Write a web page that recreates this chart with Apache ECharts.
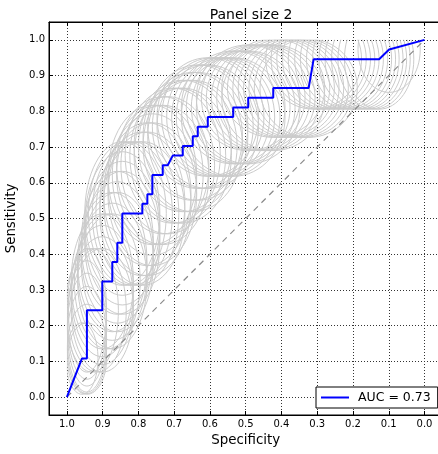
<!DOCTYPE html>
<html><head><meta charset="utf-8">
<script src="https://cdn.jsdelivr.net/npm/echarts@6/dist/echarts.min.js"></script>
<style>html,body{margin:0;padding:0;background:#fff}#c{width:438px;height:454px}</style>
</head><body><div id="c"></div>
<script>
const chartTitle = 'Panel size 2';
const xName = 'Specificity';
const yName = 'Sensitivity';
const aucLabel = 'AUC = 0.73';

// ROC curve vertices (specificity, sensitivity)
const rocSpec = [1.0, 0.958, 0.944, 0.944, 0.901, 0.901, 0.873, 0.873, 0.859, 0.859, 0.845, 0.845, 0.789, 0.789, 0.775, 0.775, 0.761, 0.761, 0.732, 0.732, 0.718, 0.704, 0.676, 0.676, 0.648, 0.648, 0.634, 0.634, 0.606, 0.606, 0.535, 0.535, 0.493, 0.493, 0.423, 0.423, 0.324, 0.310, 0.127, 0.099, 0.0];
const rocSens = [0.0, 0.108, 0.108, 0.243, 0.243, 0.324, 0.324, 0.378, 0.378, 0.432, 0.432, 0.514, 0.514, 0.541, 0.541, 0.568, 0.568, 0.622, 0.622, 0.649, 0.649, 0.676, 0.676, 0.703, 0.703, 0.730, 0.730, 0.757, 0.757, 0.784, 0.784, 0.811, 0.811, 0.838, 0.838, 0.865, 0.865, 0.946, 0.946, 0.973, 1.0];

// chance diagonal
const diagSpec = [1.0, 0.0];
const diagSens = [0.0, 1.0];

// grey confidence ellipses: centre (spec, sens) and half-widths
const ellSpec = [0.958,0.944,0.944,0.944,0.944,0.944,0.944,0.930,0.915,0.901,0.901,0.901,0.901,0.887,0.873,0.873,0.873,0.859,0.859,0.859,0.845,0.845,0.845,0.845,0.831,0.817,0.803,0.789,0.789,0.775,0.775,0.761,0.761,0.761,0.746,0.732,0.732,0.718,0.704,0.690,0.676,0.676,0.662,0.648,0.648,0.634,0.634,0.620,0.606,0.606,0.592,0.577,0.563,0.549,0.535,0.535,0.521,0.507,0.493,0.493,0.479,0.465,0.451,0.437,0.423,0.423,0.408,0.394,0.380,0.366,0.352,0.338,0.324,0.310,0.296,0.282,0.268,0.254,0.239,0.225,0.211,0.197,0.183,0.169,0.155,0.141,0.127,0.099];
const ellSens = [0.108,0.108,0.135,0.162,0.189,0.216,0.243,0.243,0.243,0.243,0.270,0.297,0.324,0.324,0.324,0.351,0.378,0.378,0.405,0.432,0.432,0.459,0.486,0.514,0.514,0.514,0.514,0.514,0.541,0.541,0.568,0.568,0.595,0.622,0.622,0.622,0.649,0.649,0.676,0.676,0.676,0.703,0.703,0.703,0.730,0.730,0.757,0.757,0.757,0.784,0.784,0.784,0.784,0.784,0.784,0.811,0.811,0.811,0.811,0.838,0.838,0.838,0.838,0.838,0.838,0.865,0.865,0.865,0.865,0.865,0.865,0.865,0.865,0.946,0.946,0.946,0.946,0.946,0.946,0.946,0.946,0.946,0.946,0.946,0.946,0.946,0.946,0.973];
const ellRx = [0.045,0.055,0.055,0.055,0.055,0.055,0.055,0.074,0.081,0.087,0.087,0.087,0.087,0.092,0.097,0.097,0.097,0.101,0.101,0.101,0.105,0.105,0.105,0.105,0.109,0.112,0.116,0.119,0.119,0.122,0.122,0.124,0.124,0.124,0.127,0.129,0.129,0.131,0.133,0.134,0.136,0.136,0.138,0.139,0.139,0.140,0.140,0.141,0.142,0.142,0.143,0.144,0.144,0.145,0.145,0.145,0.145,0.145,0.145,0.145,0.145,0.145,0.145,0.144,0.144,0.144,0.143,0.142,0.141,0.140,0.139,0.138,0.136,0.134,0.133,0.131,0.129,0.127,0.124,0.122,0.119,0.116,0.112,0.109,0.105,0.101,0.097,0.087];
const ellRy = [0.100,0.100,0.125,0.148,0.158,0.166,0.173,0.173,0.173,0.173,0.179,0.184,0.189,0.189,0.189,0.192,0.195,0.195,0.198,0.200,0.200,0.201,0.201,0.201,0.201,0.201,0.201,0.201,0.201,0.201,0.200,0.200,0.198,0.195,0.195,0.195,0.192,0.192,0.189,0.189,0.189,0.184,0.184,0.184,0.179,0.179,0.173,0.173,0.173,0.166,0.166,0.166,0.166,0.166,0.166,0.158,0.158,0.158,0.158,0.148,0.148,0.148,0.148,0.148,0.148,0.138,0.138,0.138,0.138,0.138,0.138,0.138,0.138,0.140,0.140,0.140,0.140,0.140,0.140,0.140,0.140,0.140,0.140,0.140,0.140,0.140,0.140,0.120];

const FONT = 'DejaVu Sans';
const chart = echarts.init(document.getElementById('c'), null, {renderer: 'canvas'});

const gridLine = {show: true, lineStyle: {color: '#333', width: 1, type: [1, 2]}};
function fmt(v) { return Math.abs(v) < 1e-9 ? '0.0' : v.toFixed(1); }

const option = {
  animation: false,
  backgroundColor: '#fff',
  title: {
    text: chartTitle, left: 246, top: 3, textAlign: 'center',
    textStyle: {fontFamily: FONT, fontSize: 14, fontWeight: 'normal', color: '#000'}
  },
  grid: {left: 49, width: 393.4, top: 22, bottom: 39, show: true, borderColor: '#000', borderWidth: 1,
         containLabel: false, outerBoundsMode: 'none'},
  legend: {
    data: [{name: aucLabel, icon: 'rect'}], left: 316, top: 387, orient: 'horizontal',
    backgroundColor: '#fff', borderColor: '#000', borderWidth: 1, borderRadius: 0,
    padding: [4, 7, 4, 5], itemWidth: 28, itemHeight: 2,
    textStyle: {fontFamily: FONT, fontSize: 12.5, color: '#000', padding: [0, 0, 0, 4]}
  },
  xAxis: [{
    type: 'value', inverse: true, min: -0.05, max: 1.05, splitNumber: 11,
    name: xName, nameLocation: 'middle', nameGap: 13,
    nameTextStyle: {fontFamily: FONT, fontSize: 13.4, color: '#000'},
    axisLine: {show: true, onZero: false, lineStyle: {color: '#000', width: 1}},
    axisTick: {show: true, inside: true, length: 4, lineStyle: {color: '#000'}},
    axisLabel: {show: true, margin: 4, fontFamily: FONT, fontSize: 10, color: '#000', showMinLabel: false, showMaxLabel: false, formatter: fmt},
    splitLine: gridLine
  }, {
    type: 'value', inverse: true, min: -0.05, max: 1.05, splitNumber: 11, position: 'top',
    axisLine: {show: true, onZero: false, lineStyle: {color: '#000', width: 1}},
    axisTick: {show: true, inside: true, length: 4, lineStyle: {color: '#000'}},
    axisLabel: {show: false}, splitLine: {show: false}
  }],
  yAxis: [{
    type: 'value', min: -0.05, max: 1.05, splitNumber: 11,
    name: yName, nameLocation: 'middle', nameGap: 22, nameRotate: 90,
    nameTextStyle: {fontFamily: FONT, fontSize: 13.4, color: '#000'},
    axisLine: {show: true, onZero: false, lineStyle: {color: '#000', width: 1}},
    axisTick: {show: true, inside: true, length: 4, lineStyle: {color: '#000'}},
    axisLabel: {show: true, margin: 4, fontFamily: FONT, fontSize: 10, color: '#000', showMinLabel: false, showMaxLabel: false, formatter: fmt},
    splitLine: gridLine
  }],
  series: [
    {
      name: 'ellipses', type: 'custom', coordinateSystem: 'cartesian2d', silent: true, z: 2,
      data: ellSpec.map((s, i) => [s, ellSens[i], ellRx[i], ellRy[i]]),
      renderItem: function (params, api) {
        const c = api.coord([api.value(0), api.value(1)]);
        const sz = api.size([api.value(2), api.value(3)]);
        const a = api.coord([1, 1]);
        const b = api.coord([0, 0]);
        return {
          type: 'ellipse',
          shape: {cx: c[0], cy: c[1], rx: Math.abs(sz[0]), ry: Math.abs(sz[1])},
          style: {fill: 'none', stroke: '#cbcbcb', lineWidth: 1},
          clipPath: {type: 'rect', shape: {
            x: Math.min(a[0], b[0]), y: Math.min(a[1], b[1]),
            width: Math.abs(b[0] - a[0]), height: Math.abs(b[1] - a[1])}}
        };
      }
    },
    {
      name: 'diagonal', type: 'line', symbol: 'none', silent: true, z: 3,
      data: diagSpec.map((s, i) => [s, diagSens[i]]),
      lineStyle: {color: '#8a8a8a', width: 1.2, type: [6, 5]}
    },
    {
      name: aucLabel, type: 'line', symbol: 'none', z: 5,
      data: rocSpec.map((s, i) => [s, rocSens[i]]),
      lineStyle: {color: '#0000ff', width: 2},
      itemStyle: {color: '#0000ff'}
    }
  ]
};
chart.setOption(option);
</script>
</body></html>
